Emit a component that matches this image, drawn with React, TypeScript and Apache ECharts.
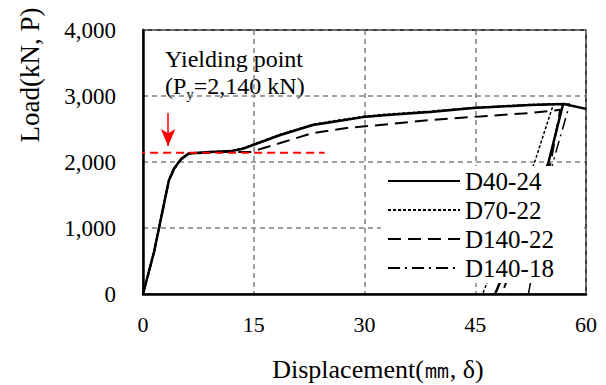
import React, { useEffect, useRef } from "react";
import * as echarts from "echarts";

const FONT = '"Liberation Serif", "Times New Roman", serif';

const seriesNames = ["D40-24", "D70-22", "D140-22", "D140-18"];
const xTicks = [0, 15, 30, 45, 60];
const yTicks = [0, 1000, 2000, 3000, 4000];

// Displacement (mm) / Load (kN); a "-" entry breaks the line (unloading branch)
const d40x: (number | string)[] = [0, 1.5, 3.0, 3.5, 4.2, 5.2, 6.2, 9, 12, 13.5, 14.9, 18.6, 23, 26.7, 29.8, 33.5, 38.9, 44.7, 52.4, 57.0, 60, "-", 56.9, 54.9, 47.7];
const d40y: (number | string)[] = [0, 640, 1450, 1720, 1900, 2050, 2130, 2150, 2165, 2200, 2258, 2409, 2560, 2625, 2680, 2715, 2758, 2818, 2864, 2880, 2805, "-", 2880, 1985, 0];

const d70x = [0, 1.5, 3.0, 3.5, 4.2, 5.2, 6.2, 9, 12, 13.5, 15, 18.6, 23, 26.7, 30, 33.5, 38.9, 44.7, 52.4, 55.6, 53.0, 46.0];
const d70y = [0, 650, 1470, 1730, 1910, 2060, 2135, 2150, 2170, 2210, 2270, 2420, 2570, 2640, 2695, 2728, 2770, 2825, 2870, 2880, 1985, 0];

const d140x = [0, 1.5, 3.0, 3.5, 4.2, 5.2, 6.2, 9, 12, 14.5, 18.6, 23, 27.6, 33.5, 38.9, 44.7, 52.4, 56.5, 55.2, 48.6];
const d140y = [0, 630, 1440, 1710, 1890, 2040, 2125, 2145, 2155, 2150, 2288, 2439, 2515, 2576, 2636, 2682, 2742, 2790, 1985, 0];

const d14018x = [0, 1.5, 3.0, 3.5, 4.2, 5.2, 6.2, 9, 12, 13.5, 15, 18.6, 23, 26.7, 30, 33.5, 38.9, 44.7, 52.4, 57.8, 55.5, 52.2];
const d14018y = [0, 645, 1460, 1725, 1905, 2055, 2132, 2150, 2168, 2205, 2262, 2412, 2562, 2630, 2685, 2718, 2762, 2820, 2866, 2880, 1985, 0];

const yieldLoad = 2140;
const yieldLineX = [-0.8, 24.6];
const arrowX = 3.4;
const arrowFromY = 2742;
const arrowToY = 2242;

const zip = (xs: (number | string)[], ys: (number | string)[]) => xs.map((x, i) => [x, ys[i]]);

export default function App() {
  const ref = useRef<HTMLDivElement>(null);
  useEffect(() => {
    if (!ref.current) return;
    const chart = echarts.init(ref.current, null, { renderer: "svg" });
    const lineBase = { type: "line", showSymbol: false, symbol: "none", z: 3, itemStyle: { color: "#000" } };
    chart.setOption({
      animation: false,
      backgroundColor: "#fff",
      textStyle: { fontFamily: FONT },
      grid: { left: 143, right: 20, top: 30, bottom: 91, show: true, borderColor: "#000", borderWidth: 1.5, containLabel: false },
      xAxis: {
        type: "value",
        min: xTicks[0],
        max: xTicks[xTicks.length - 1],
        interval: 15,
        axisLine: { show: true, onZero: false, lineStyle: { color: "#000", width: 2.5 } },
        axisTick: { show: false },
        axisLabel: { color: "#000", fontSize: 22, fontFamily: FONT, margin: 19 },
        splitLine: { show: true, lineStyle: { color: "#808080", width: 1.5, type: [5, 4] } },
      },
      yAxis: {
        type: "value",
        min: yTicks[0],
        max: yTicks[yTicks.length - 1],
        interval: 1000,
        axisLine: { show: true, lineStyle: { color: "#000", width: 2.5 } },
        axisTick: { show: false },
        axisLabel: {
          color: "#000",
          fontSize: 23,
          fontFamily: FONT,
          margin: 27,
          formatter: (v: number) => v.toLocaleString("en-US"),
        },
        splitLine: { show: true, lineStyle: { color: "#808080", width: 1.5, type: [5, 4] } },
      },
      legend: {
        orient: "vertical",
        left: 381,
        top: 166,
        padding: [2, 26, 2, 6],
        backgroundColor: "#fff",
        itemWidth: 72,
        itemHeight: 14,
        itemGap: 3,
        data: seriesNames,
        itemStyle: { color: "transparent", borderColor: "transparent", borderWidth: 0, opacity: 0 },
        textStyle: { color: "#000", fontSize: 25, fontFamily: FONT, lineHeight: 26, padding: [0, 0, 0, 0] },
      },
      series: [
        { ...lineBase, name: seriesNames[0], data: zip(d40x, d40y), connectNulls: false, lineStyle: { color: "#000", width: 2.5, type: "solid" } },
        { ...lineBase, name: seriesNames[1], data: zip(d70x, d70y), lineStyle: { color: "#000", width: 1.5, type: [3, 2] } },
        { ...lineBase, name: seriesNames[2], data: zip(d140x, d140y), lineStyle: { color: "#000", width: 2, type: [13, 7] } },
        { ...lineBase, name: seriesNames[3], data: zip(d14018x, d14018y), lineStyle: { color: "#000", width: 1.5, type: [12, 5, 2, 5] } },
        {
          type: "line",
          name: "yield",
          symbol: "none",
          clip: false,
          z: 4,
          data: yieldLineX.map((x) => [x, yieldLoad]),
          lineStyle: { color: "#ff0000", width: 2, type: [8, 5] },
          markLine: {
            silent: true,
            symbol: ["none", "arrow"],
            symbolSize: [11, 17],
            label: { show: false },
            lineStyle: { color: "#ff0000", width: 1.5, type: "solid" },
            data: [[{ coord: [arrowX, arrowFromY] }, { coord: [arrowX, arrowToY] }]],
          },
        },
      ],
      graphic: [
        {
          type: "text",
          left: 165,
          top: 47,
          style: { text: "Yielding point", fontSize: 24, fontFamily: FONT, fill: "#000" },
        },
        {
          type: "text",
          left: 165,
          top: 74,
          style: {
            text: "{a|(P}{s|y}{a|=2,140 kN)}",
            fontFamily: FONT,
            fill: "#000",
            rich: {
              a: { fontSize: 24, fontFamily: FONT, lineHeight: 30, verticalAlign: "middle", fill: "#000" },
              s: { fontSize: 15, fontFamily: FONT, lineHeight: 30, verticalAlign: "bottom", fill: "#000" },
            },
          },
        },
        {
          type: "text",
          x: 30,
          y: 75,
          rotation: Math.PI / 2,
          style: { text: "Load(kN, P)", fontSize: 27, fontFamily: FONT, fill: "#000", align: "center", verticalAlign: "middle" },
        },
        {
          type: "text",
          x: 378,
          y: 369,
          style: { text: "Displacement(㎜, δ)", fontSize: 26, fontFamily: FONT, fill: "#000", align: "center", verticalAlign: "middle" },
        },
      ],
    });
    return () => chart.dispose();
  }, []);
  return <div ref={ref} style={{ position: "fixed", left: 0, top: 0, width: 606, height: 385 }} />;
}
